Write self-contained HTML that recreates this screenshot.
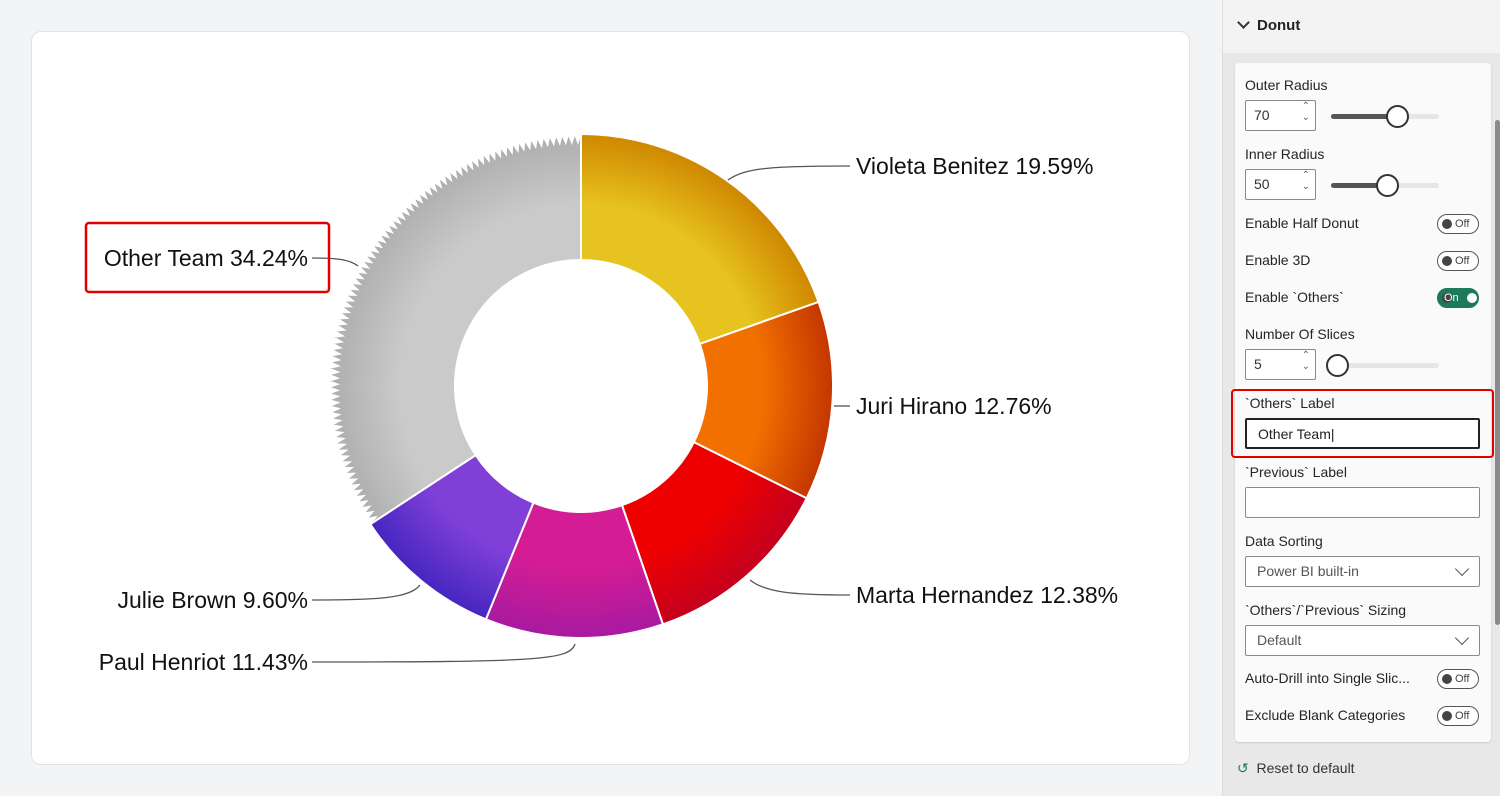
<!DOCTYPE html>
<html><head><meta charset="utf-8"><style>
*{box-sizing:border-box}
body{margin:0;width:1500px;height:796px;background:#f3f4f6;font-family:"Segoe UI","Liberation Sans",sans-serif;position:relative;overflow:hidden}
.card{position:absolute;left:31px;top:31px;width:1159px;height:734px;background:#fff;border:1px solid #e3e3e3;border-radius:10px}
.lbl{position:absolute;font-size:23px;color:#111;white-space:nowrap;line-height:26px}
.panel{position:absolute;left:1222px;top:0;width:278px;height:796px;background:#e8e8e8;border-left:1px solid #ddd}
.ph{position:absolute;left:0;top:0;width:278px;height:53px;background:#f3f3f3;font-size:15px;font-weight:600;color:#222;padding:17px 0 0 14px}
.pc{position:absolute;left:12px;top:63px;width:256px;height:679px;background:#fafafa;border-radius:4px;box-shadow:0 1px 2px rgba(0,0,0,.12)}
.t{position:absolute;left:10px;font-size:14px;color:#252525;top:0}
.num{position:absolute;left:10px;width:71px;height:31px;border:1px solid #8a8a8a;border-radius:2px;background:#fff;font-size:14px;color:#333;padding:6px 0 0 8px}
.num:after{content:"⌃\A⌄";white-space:pre;position:absolute;right:5px;top:0;font-size:10px;line-height:11px;color:#666}
.trk{position:absolute;left:96px;width:108px;height:5px;background:#e6e6e6;border-radius:3px}
.fill{position:absolute;left:0;top:0;height:5px;background:#555;border-radius:3px}
.knob{position:absolute;top:-9px;width:23px;height:23px;border:2px solid #333;border-radius:50%;background:#fff}
.tog{position:absolute;left:202px;width:42px;height:20px;border:1px solid #555;border-radius:10px;background:#fff;font-size:11px;color:#444}
.tog:before{content:"";position:absolute;left:4px;top:4px;width:10px;height:10px;border-radius:50%;background:#444}
.tog span{position:absolute;left:17px;top:3px;line-height:13px}
.inp{position:absolute;left:10px;width:235px;height:31px;border:1px solid #8a8a8a;border-radius:2px;background:#fff;font-size:14px;color:#555;padding:6px 0 0 11px}
.dd:after{content:"";position:absolute;right:12px;top:7px;width:9px;height:9px;border-right:1.5px solid #555;border-bottom:1.5px solid #555;transform:rotate(45deg)}
</style></head><body>
<div class="card"></div>
<svg style="position:absolute;left:0;top:0" width="1222" height="796" id="sv">
<defs id="df"></defs>
<g id="g"></g>
<g fill="none" stroke="#555" stroke-width="1.3">
<path d="M728,180 C745,168 770,166 850,166"/>
<path d="M834,406 L850,406"/>
<path d="M750,580 C765,592 790,595 850,595"/>
<path d="M575,644 C570,660 540,662 312,662"/>
<path d="M420,585 C410,598 380,600 312,600"/>
<path d="M358,266 C350,260 340,258 312,258"/>
</g>
<rect x="86" y="223" width="243" height="69" rx="3" fill="none" stroke="#e00000" stroke-width="2.5"/>
</svg>
<div class="lbl" style="left:856px;top:153px">Violeta Benitez 19.59%</div>
<div class="lbl" style="left:856px;top:393px">Juri Hirano 12.76%</div>
<div class="lbl" style="left:856px;top:582px">Marta Hernandez 12.38%</div>
<div class="lbl" style="right:1192px;top:649px">Paul Henriot 11.43%</div>
<div class="lbl" style="right:1192px;top:587px">Julie Brown 9.60%</div>
<div class="lbl" style="right:1192px;top:245px">Other Team 34.24%</div>
<div class="panel">
<div class="ph"><span style="display:inline-block;width:9px;height:9px;border-right:2px solid #333;border-bottom:2px solid #333;transform:rotate(45deg);margin:0 9px 3px 2px"></span>Donut</div>
<div class="pc">
<div class="t" style="top:14px">Outer Radius</div>
<div class="num" style="top:37px">70</div>
<div class="trk" style="top:51px"><div class="fill" style="width:66px"></div><div class="knob" style="left:55px"></div></div>
<div class="t" style="top:83px">Inner Radius</div>
<div class="num" style="top:106px">50</div>
<div class="trk" style="top:120px"><div class="fill" style="width:56px"></div><div class="knob" style="left:45px"></div></div>
<div class="t" style="top:152px">Enable Half Donut</div>
<div class="tog" style="top:151px"><span>Off</span></div>
<div class="t" style="top:189px">Enable 3D</div>
<div class="tog" style="top:188px"><span>Off</span></div>
<div class="t" style="top:226px">Enable `Others`</div>
<div class="tog" style="top:225px;background:#1c7a5a;border-color:#1c7a5a;color:#fff"><span style="left:6px">On</span></div>
<div style="position:absolute;left:232px;top:230px;width:10px;height:10px;border-radius:50%;background:#fff"></div>
<div class="t" style="top:263px">Number Of Slices</div>
<div class="num" style="top:286px">5</div>
<div class="trk" style="top:300px"><div class="knob" style="left:-5px"></div></div>
<div style="position:absolute;left:-4px;top:326px;width:263px;height:69px;border:2.5px solid #e00000;border-radius:4px"></div>
<div class="t" style="top:332px">`Others` Label</div>
<div class="inp" style="top:355px;border:2px solid #222;color:#222">Other Team|</div>
<div class="t" style="top:401px">`Previous` Label</div>
<div class="inp" style="top:424px"></div>
<div class="t" style="top:470px">Data Sorting</div>
<div class="inp dd" style="top:493px">Power BI built-in</div>
<div class="t" style="top:539px">`Others`/`Previous` Sizing</div>
<div class="inp dd" style="top:562px">Default</div>
<div class="t" style="top:607px">Auto-Drill into Single Slic...</div>
<div class="tog" style="top:606px"><span>Off</span></div>
<div class="t" style="top:644px">Exclude Blank Categories</div>
<div class="tog" style="top:643px"><span>Off</span></div>
</div>
<div style="position:absolute;left:272px;top:120px;width:5px;height:505px;background:#8a8a8a;border-radius:3px"></div>
<div style="position:absolute;left:14px;top:760px;font-size:14px;color:#333"><span style="color:#1c7a5a">↺</span>&nbsp; Reset to default</div>
</div>
<script>
var cx=581,cy=386,R=252,r=126;
var data=[[19.59,"#e6c31e","#cf8700"],[12.76,"#f27000","#c43600"],[12.38,"#ee0000","#c4001e"],[11.43,"#d41c94","#a81aa0"],[9.60,"#8040d8","#4626c0"],[34.24,"#cacaca","#adadad"]];
var g=document.getElementById('g'),df=document.getElementById('df'),ns="http://www.w3.org/2000/svg";
function pt(a,rad){return [cx+rad*Math.sin(a),cy-rad*Math.cos(a)];}
var a0=0,tot=100;
data.forEach(function(d,i){
 var a1=a0+d[0]/tot*2*Math.PI;
 var gr=document.createElementNS(ns,'radialGradient');
 gr.setAttribute('id','gr'+i);gr.setAttribute('gradientUnits','userSpaceOnUse');
 gr.setAttribute('cx',cx);gr.setAttribute('cy',cy);gr.setAttribute('r',R);
 gr.innerHTML='<stop offset="0.5" stop-color="'+d[1]+'"/><stop offset="0.72" stop-color="'+d[1]+'"/><stop offset="1" stop-color="'+d[2]+'"/>';
 df.appendChild(gr);
 var p=document.createElementNS(ns,'path'),s;
 if(i<5){
  var A=pt(a0,R),B=pt(a1,R),C=pt(a1,r),D=pt(a0,r),lg=(a1-a0)>Math.PI?1:0;
  s='M'+A+' A'+R+','+R+' 0 '+lg+' 1 '+B+' L'+C+' A'+r+','+r+' 0 '+lg+' 0 '+D+'Z';
 } else {
  s='M'+pt(a0,r);var n=Math.round((a1-a0)/0.025);
  for(var k=0;k<=n*2;k++){var a=a0+(a1-a0)*k/(n*2);s+=' L'+pt(a,k%2?244:253);}
  s+=' L'+pt(a1,r)+' A'+r+','+r+' 0 0 0 '+pt(a0,r)+'Z';
 }
 p.setAttribute('d',s);p.setAttribute('fill','url(#gr'+i+')');p.setAttribute('stroke','#fff');p.setAttribute('stroke-width','2');
 g.appendChild(p);a0=a1;
});
</script>
</body></html>
